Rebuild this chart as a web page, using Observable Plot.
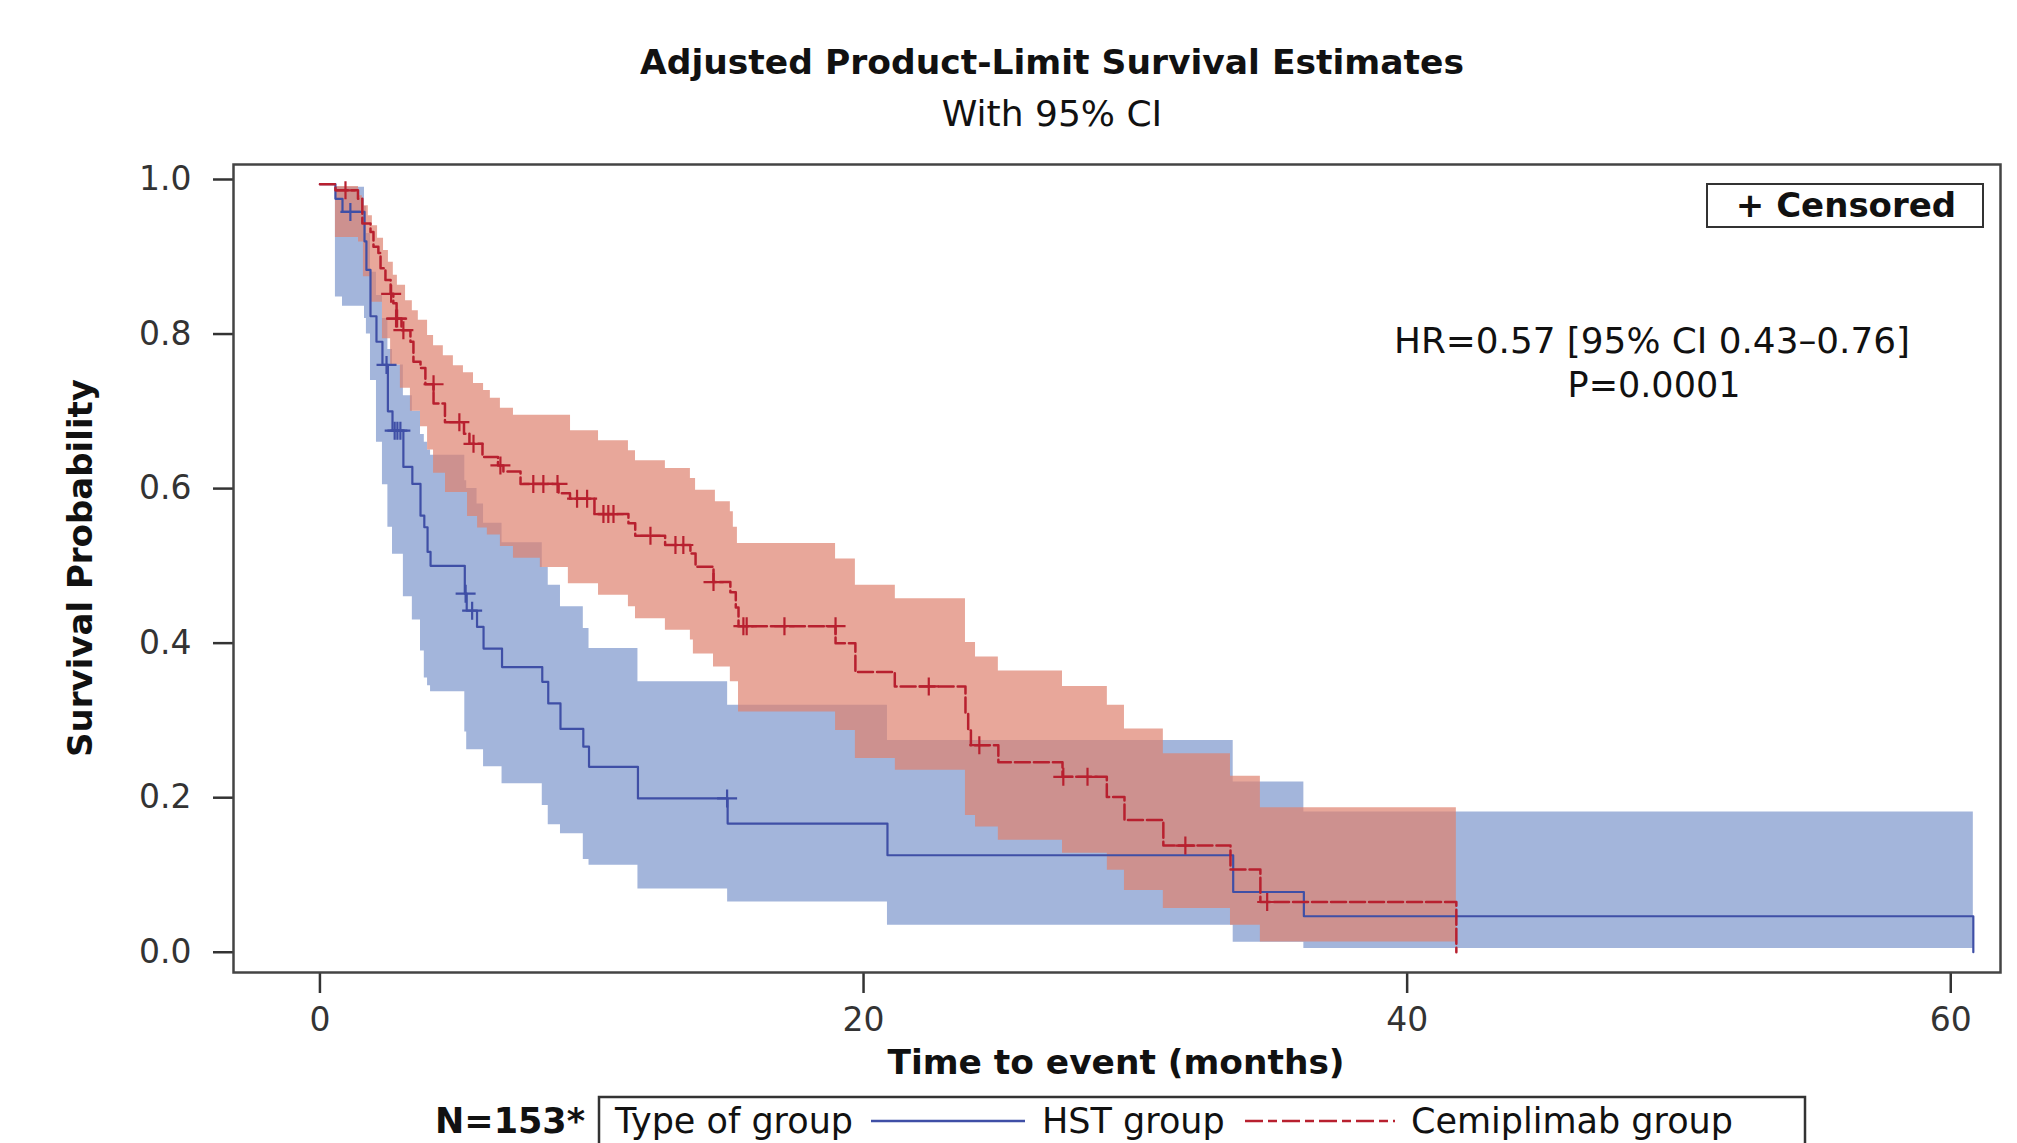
<!DOCTYPE html>
<html><head><meta charset="utf-8">
<script src="https://cdn.jsdelivr.net/npm/d3@7"></script>
<script src="https://cdn.jsdelivr.net/npm/@observablehq/plot@0.6"></script>
<style>
html,body{margin:0;padding:0;background:#fff;}
#wrap{position:relative;width:2017px;height:1143px;overflow:hidden;background:#fff;}
#wrap svg{position:absolute;left:0;top:0;}
</style></head><body><div id="wrap"></div>
<script>
// ---- HST group (blue) Kaplan-Meier estimate ----
const hstTime = [0, 0.57, 0.83, 1.64, 1.71, 1.86, 2.08, 2.30, 2.50, 2.67, 3.07, 3.40, 3.70, 3.84, 3.96, 4.07, 5.33, 5.40, 5.78, 6.02, 6.70, 8.18, 8.40, 8.85, 9.69, 9.90, 11.70, 15.00, 20.88, 33.60, 36.20, 60.83];
const hstSurv = [0.994, 0.975, 0.958, 0.920, 0.883, 0.823, 0.790, 0.760, 0.700, 0.675, 0.628, 0.606, 0.565, 0.550, 0.518, 0.500, 0.464, 0.442, 0.421, 0.393, 0.369, 0.350, 0.322, 0.289, 0.266, 0.240, 0.199, 0.1665, 0.1255, 0.078, 0.0466, 0];
const hstCensTime = [1.12, 2.45, 2.75, 2.85, 2.96, 5.36, 5.60, 14.98];
const hstCensSurv = [0.958, 0.760, 0.675, 0.675, 0.675, 0.464, 0.442, 0.199];
// HST 95% CI band
const hstBandTime = [0.57, 0.83, 1.64, 1.71, 1.86, 2.08, 2.30, 2.50, 2.67, 3.07, 3.40, 3.70, 3.84, 3.96, 4.07, 5.33, 5.40, 5.78, 6.02, 6.70, 8.18, 8.40, 8.85, 9.69, 9.90, 11.70, 15.00, 20.88, 33.60, 36.20, 60.83];
const hstLower = [0.848, 0.836, 0.820, 0.800, 0.740, 0.660, 0.605, 0.550, 0.515, 0.460, 0.430, 0.390, 0.355, 0.345, 0.337, 0.285, 0.262, 0.262, 0.240, 0.218, 0.190, 0.165, 0.1535, 0.120, 0.1125, 0.082, 0.065, 0.035, 0.013, 0.005, 0.005];
const hstUpper = [0.990, 0.990, 0.965, 0.930, 0.880, 0.850, 0.820, 0.780, 0.760, 0.720, 0.700, 0.670, 0.660, 0.650, 0.643, 0.610, 0.600, 0.580, 0.555, 0.530, 0.498, 0.475, 0.447, 0.419, 0.393, 0.350, 0.3195, 0.274, 0.2203, 0.1815, 0.1815];

// ---- Cemiplimab group (red) Kaplan-Meier estimate ----
const cemTime = [0, 0.57, 1.40, 1.56, 1.86, 1.97, 2.15, 2.23, 2.41, 2.60, 2.70, 2.82, 3.00, 3.33, 3.44, 3.70, 3.88, 4.18, 4.60, 5.30, 5.50, 5.98, 6.55, 6.75, 7.38, 8.78, 9.20, 10.10, 11.35, 11.60, 12.70, 13.63, 13.82, 14.48, 15.10, 15.30, 15.40, 18.97, 19.70, 21.15, 23.75, 23.85, 23.95, 24.96, 27.32, 28.95, 29.60, 31.03, 33.50, 34.60, 41.81];
const cemSurv = [0.994, 0.986, 0.975, 0.943, 0.932, 0.913, 0.905, 0.885, 0.870, 0.852, 0.840, 0.820, 0.805, 0.790, 0.764, 0.756, 0.735, 0.710, 0.686, 0.671, 0.658, 0.641, 0.630, 0.622, 0.606, 0.594, 0.587, 0.567, 0.555, 0.539, 0.527, 0.516, 0.499, 0.479, 0.466, 0.446, 0.422, 0.400, 0.3626, 0.344, 0.309, 0.287, 0.268, 0.246, 0.227, 0.201, 0.171, 0.138, 0.107, 0.065, 0];
const cemCensTime = [0.94, 2.62, 2.80, 2.84, 3.07, 4.18, 5.13, 5.65, 6.64, 7.85, 8.22, 8.74, 9.46, 9.83, 10.43, 10.61, 10.80, 12.16, 13.08, 13.37, 14.48, 15.58, 15.70, 17.09, 18.97, 22.40, 24.26, 27.35, 28.24, 31.84, 34.85];
const cemCensSurv = [0.986, 0.852, 0.820, 0.820, 0.805, 0.735, 0.686, 0.658, 0.630, 0.606, 0.606, 0.606, 0.587, 0.587, 0.567, 0.567, 0.567, 0.539, 0.527, 0.527, 0.479, 0.422, 0.422, 0.422, 0.422, 0.344, 0.268, 0.227, 0.227, 0.138, 0.065];
// Cemiplimab 95% CI band (upper and lower edges)
const cemUpperTime = [0.57, 1.42, 1.56, 1.78, 1.93, 2.12, 2.34, 2.52, 2.70, 2.85, 3.15, 3.40, 3.62, 3.96, 4.18, 4.54, 4.91, 5.28, 5.65, 6.02, 6.27, 6.64, 7.12, 9.22, 10.25, 11.35, 11.61, 12.71, 13.63, 13.82, 14.55, 15.10, 15.21, 15.36, 18.97, 19.70, 21.17, 23.75, 24.12, 24.96, 27.32, 28.97, 29.60, 31.03, 33.50, 34.60, 41.81];
const cemUpper = [0.991, 0.979, 0.966, 0.953, 0.940, 0.924, 0.908, 0.893, 0.876, 0.863, 0.843, 0.830, 0.818, 0.798, 0.785, 0.772, 0.759, 0.750, 0.736, 0.727, 0.717, 0.704, 0.695, 0.675, 0.662, 0.649, 0.636, 0.626, 0.613, 0.598, 0.583, 0.570, 0.550, 0.529, 0.509, 0.475, 0.4576, 0.401, 0.382, 0.364, 0.344, 0.3195, 0.289, 0.257, 0.2277, 0.187, 0.187];
const cemLowerTime = [0.57, 1.42, 1.60, 1.86, 2.30, 2.60, 2.96, 3.33, 3.70, 3.96, 4.18, 4.62, 5.43, 5.80, 6.16, 6.64, 7.12, 8.11, 9.14, 10.25, 11.35, 11.61, 12.71, 13.63, 13.74, 14.48, 15.10, 15.40, 18.97, 19.70, 21.17, 23.75, 24.12, 24.96, 27.32, 28.97, 29.60, 31.03, 33.50, 34.60, 41.81];
const cemLower = [0.925, 0.919, 0.874, 0.841, 0.794, 0.760, 0.730, 0.700, 0.680, 0.650, 0.620, 0.595, 0.564, 0.549, 0.540, 0.525, 0.510, 0.498, 0.477, 0.462, 0.447, 0.4317, 0.4166, 0.404, 0.386, 0.369, 0.350, 0.311, 0.287, 0.2506, 0.2355, 0.177, 0.162, 0.145, 0.128, 0.106, 0.080, 0.0565, 0.035, 0.0133, 0.0133];

// ---- axis ticks and texts ----
const xTicks = [0, 20, 40, 60];
const yTicks = [0, 0.2, 0.4, 0.6, 0.8, 1.0];
const titleText = "Adjusted Product-Limit Survival Estimates";
const subtitleText = "With 95% CI";
const xLabel = "Time to event (months)";
const yLabel = "Survival Probability";
const hrText = ["HR=0.57 [95% CI 0.43\u20130.76]", "P=0.0001"];
const groupNames = ["HST group", "Cemiplimab group"];

const BLUE_LINE = "#3F4FA6", RED_LINE = "#B8202F";
const BLUE_FILL = "#A3B5DB", RED_FILL = "rgb(222,129,111)";

// ---- tables built from the arrays ----
const stepAt = (ts, vs, t) => { let v = vs[0]; for (let i = 0; i < ts.length; i++) { if (ts[i] <= t + 1e-9) v = vs[i]; else break; } return v; };
const hstLine = hstTime.map((t, i) => ({t, s: hstSurv[i]}));
const cemLine = cemTime.map((t, i) => ({t, s: cemSurv[i]}));
const hstCens = hstCensTime.map((t, i) => ({t, s: hstCensSurv[i]}));
const cemCens = cemCensTime.map((t, i) => ({t, s: cemCensSurv[i]}));
const hstBand = hstBandTime.map((t, i) => ({t, lo: hstLower[i], hi: hstUpper[i]}));
const cemBandTime = Array.from(new Set([...cemUpperTime, ...cemLowerTime])).sort((a, b) => a - b);
const cemBand = cemBandTime.map(t => ({t, lo: stepAt(cemLowerTime, cemLower, t), hi: stepAt(cemUpperTime, cemUpper, t)}));

const plusSymbol = {draw(ctx, size) { const r = Math.sqrt(size / Math.PI); ctx.moveTo(-r, 0); ctx.lineTo(r, 0); ctx.moveTo(0, -r * 0.9); ctx.lineTo(0, r * 0.9); }};

const plot = Plot.plot({
  width: 2017, height: 1143,
  marginLeft: 233, marginRight: 17, marginTop: 164, marginBottom: 171,
  x: {domain: [-3.18, 61.83], label: null},
  y: {domain: [-0.0262, 1.0194], label: null},
  style: {fontFamily: "'DejaVu Sans', sans-serif", fontSize: "33px", color: "#222", background: "transparent", overflow: "visible"},
  marks: [
    Plot.areaY(hstBand, {x: "t", y1: "lo", y2: "hi", curve: "step-after", fill: BLUE_FILL}),
    Plot.areaY(cemBand, {x: "t", y1: "lo", y2: "hi", curve: "step-after", fill: RED_FILL, fillOpacity: 0.7}),
    Plot.line(hstLine, {x: "t", y: "s", curve: "step-after", stroke: BLUE_LINE, strokeWidth: 2.2}),
    Plot.line(cemLine, {x: "t", y: "s", curve: "step-after", stroke: RED_LINE, strokeWidth: 2.5, strokeDasharray: "15,4"}),
    Plot.dot(hstCens, {x: "t", y: "s", symbol: plusSymbol, r: 10, stroke: BLUE_LINE, strokeWidth: 2.2, fill: "none"}),
    Plot.dot(cemCens, {x: "t", y: "s", symbol: plusSymbol, r: 10, stroke: RED_LINE, strokeWidth: 2.2, fill: "none"}),
    Plot.axisY({ticks: yTicks, tickFormat: d3.format(".1f"), tickSize: 20, tickPadding: 22, strokeWidth: 2.5, color: "#333", label: null}),
    Plot.axisX({ticks: xTicks, tickFormat: d3.format("d"), tickSize: 21, tickPadding: 14, strokeWidth: 2.5, color: "#333", label: null}),
    Plot.frame({stroke: "#444", strokeWidth: 2.5})
  ]
});
const wrap = document.getElementById("wrap");
wrap.appendChild(plot);

// ---- overlay texts: titles, axis labels, annotation, legends ----
const ns = "http://www.w3.org/2000/svg";
const ov = d3.select(wrap).append("svg").attr("xmlns", ns).attr("width", 2017).attr("height", 1143)
  .style("font-family", "'DejaVu Sans', sans-serif").style("pointer-events", "none");
const txt = (x, y, s, o = {}) => ov.append("text").attr("x", x).attr("y", y).attr("font-size", o.size || 34)
  .attr("font-weight", o.bold ? "bold" : "normal").attr("text-anchor", o.anchor || "start").attr("fill", "#111").attr("transform", o.transform || null).text(s);
txt(1052, 74, titleText, {bold: true, anchor: "middle", size: 34.5});
txt(1052, 126, subtitleText, {anchor: "middle", size: 36});
txt(0, 0, yLabel, {bold: true, anchor: "middle", transform: "translate(92,568) rotate(-90)"});
txt(1116, 1074, xLabel, {bold: true, anchor: "middle", size: 34.4});
txt(1652, 353, hrText[0], {anchor: "middle", size: 35.8});
txt(1654, 397, hrText[1], {anchor: "middle", size: 35});
// censored legend box
ov.append("rect").attr("x", 1707).attr("y", 184).attr("width", 276).attr("height", 43).attr("fill", "#fff").attr("stroke", "#333").attr("stroke-width", 2);
txt(1846, 217, "+ Censored", {bold: true, anchor: "middle"});
// bottom legend
const LB = 1133;
txt(585, LB, "N=153*", {bold: true, anchor: "end", size: 35});
ov.append("rect").attr("x", 599).attr("y", LB - 36).attr("width", 1206).attr("height", 90).attr("fill", "none").attr("stroke", "#333").attr("stroke-width", 2.5);
txt(615, LB, "Type of group", {size: 35});
ov.append("line").attr("x1", 871).attr("x2", 1025).attr("y1", LB - 12).attr("y2", LB - 12).attr("stroke", BLUE_LINE).attr("stroke-width", 2.5);
txt(1042, LB, groupNames[0], {size: 35});
ov.append("line").attr("x1", 1245).attr("x2", 1395).attr("y1", LB - 12).attr("y2", LB - 12).attr("stroke", RED_LINE).attr("stroke-width", 2.5).attr("stroke-dasharray", "18,5,9,5");
txt(1411, LB, groupNames[1], {size: 35});
</script></body></html>
